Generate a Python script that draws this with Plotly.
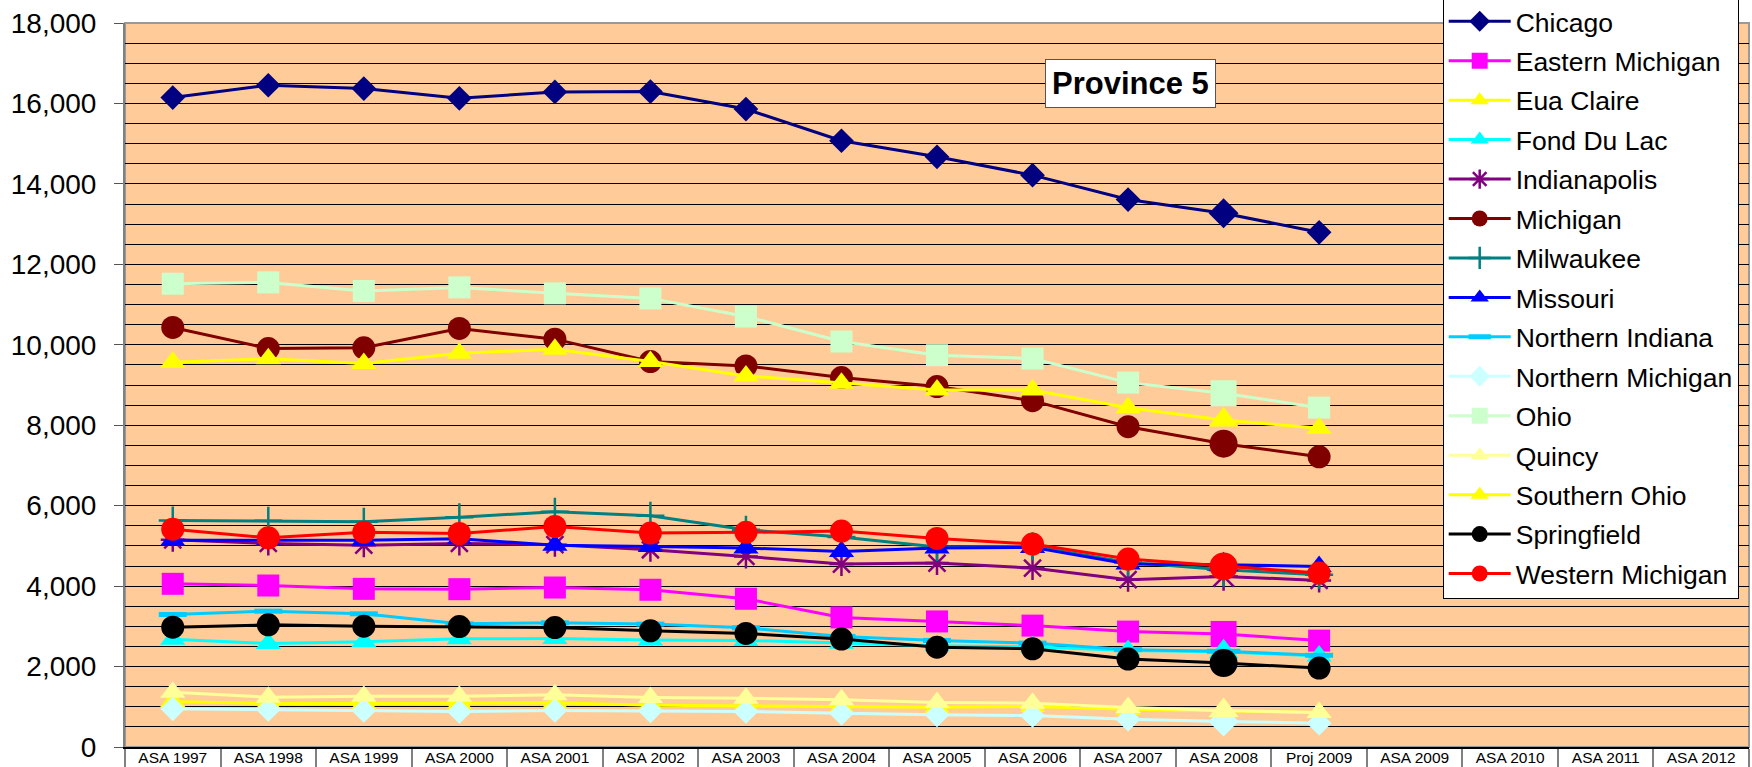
import plotly.graph_objects as go

categories = ["ASA 1997", "ASA 1998", "ASA 1999", "ASA 2000", "ASA 2001", "ASA 2002",
              "ASA 2003", "ASA 2004", "ASA 2005", "ASA 2006", "ASA 2007", "ASA 2008",
              "Proj 2009", "ASA 2009", "ASA 2010", "ASA 2011", "ASA 2012"]
years = categories[:13]

chicago = [16145, 16452, 16369, 16128, 16286, 16294, 15860, 15073, 14674, 14217, 13611, 13271, 12797]
eastern_michigan = [4057, 4015, 3932, 3924, 3965, 3909, 3685, 3221, 3122, 3018, 2869, 2811, 2645]
eua_claire = [1131, 1081, 1081, 1081, 1098, 1040, 1023, 990, 990, 1007, 941, 899, 858]
fond_du_lac = [2681, 2573, 2615, 2689, 2698, 2660, 2650, 2580, 2520, 2490, 2400, 2370, 2260]
indianapolis = [5150, 5060, 5018, 5060, 5030, 4904, 4739, 4548, 4573, 4449, 4159, 4241, 4142]
michigan = [10430, 9907, 9924, 10405, 10140, 9583, 9475, 9184, 8960, 8611, 7963, 7540, 7216]
milwaukee = [5631, 5623, 5598, 5714, 5846, 5750, 5402, 5220, 4971, 4988, 4590, 4407, 4283]
missouri = [5142, 5133, 5142, 5175, 5018, 4987, 4946, 4863, 4946, 4963, 4548, 4532, 4490]
northern_indiana = [3294, 3377, 3311, 3062, 3087, 3055, 2964, 2749, 2650, 2583, 2420, 2380, 2280]
northern_michigan = [949, 932, 907, 882, 907, 899, 882, 841, 800, 783, 692, 634, 592]
ohio = [11518, 11551, 11336, 11427, 11278, 11153, 10704, 10081, 9741, 9657, 9059, 8794, 8437]
quincy = [1363, 1239, 1264, 1264, 1297, 1231, 1214, 1173, 1106, 1090, 982, 907, 858]
southern_ohio = [9566, 9650, 9533, 9791, 9890, 9583, 9226, 9043, 8877, 8877, 8437, 8130, 7922]
springfield = [2979, 3037, 3004, 2995, 2970, 2889, 2823, 2682, 2483, 2442, 2185, 2086, 1961]
western_michigan = [5416, 5200, 5341, 5308, 5482, 5319, 5336, 5369, 5186, 5045, 4672, 4490, 4324]

y_ticks = [0, 2000, 4000, 6000, 8000, 10000, 12000, 14000, 16000, 18000]

series = [
    ("Chicago", chicago, "#000080", "diamond", 19),
    ("Eastern Michigan", eastern_michigan, "#FF00FF", "square", 22),
    ("Eua Claire", eua_claire, "#FFFF00", "triangle-up", 22),
    ("Fond Du Lac", fond_du_lac, "#00FFFF", "triangle-up", 22),
    ("Indianapolis", indianapolis, "#800080", "asterisk-open", 20),
    ("Michigan", michigan, "#800000", "circle", 23),
    ("Milwaukee", milwaukee, "#008080", "cross-thin-open", 20),
    ("Missouri", missouri, "#0000FF", "triangle-up", 22),
    ("Northern Indiana", northern_indiana, "#00CCFF", "line-ew-open", 20),
    ("Northern Michigan", northern_michigan, "#CCFFFF", "diamond", 19),
    ("Ohio", ohio, "#CCFFCC", "square", 22),
    ("Quincy", quincy, "#FFFF99", "triangle-up", 22),
    ("Southern Ohio", southern_ohio, "#FFFF00", "triangle-up", 22),
    ("Springfield", springfield, "#000000", "circle", 23),
    ("Western Michigan", western_michigan, "#FF0000", "circle", 23),
]

fig = go.Figure()
for i, (name, vals, color, sym, size) in enumerate(series):
    sizes = [size] * len(vals)
    sizes[11] = round(size * 1.2)
    open_sym = sym.endswith("open")
    marker = dict(symbol=sym, size=sizes, color=color, opacity=1)
    if open_sym:
        marker["line"] = dict(color=color, width=5 if sym == "line-ew-open" else 2.5)
    else:
        marker["line"] = dict(width=0)
    fig.add_trace(go.Scatter(
        x=years, y=vals, name=name, mode="lines+markers",
        line=dict(color=color, width=3), marker=marker,
        legendgroup="g%d" % i,
    ))

fig.add_shape(type="rect", xref="paper", yref="paper", x0=0, x1=1, y0=0, y1=1,
              line=dict(color="#999999", width=2), layer="below")

fig.add_annotation(text="<b>Province 5</b>", xref="paper", yref="paper",
                   x=(1130 - 125) / 1624, y=(747.5 - 84) / 724, showarrow=False,
                   font=dict(size=31, color="black", family="Liberation Sans, Arial"),
                   bgcolor="white", bordercolor="#555555", borderwidth=1,
                   borderpad=6, xanchor="center", yanchor="middle")

fig.update_layout(
    width=1752, height=767,
    margin=dict(l=125, r=3, t=23, b=20, autoexpand=False),
    paper_bgcolor="white", plot_bgcolor="#FFCC99",
    font=dict(family="Liberation Sans, Arial", color="black"),
    showlegend=True,
    legend=dict(x=(1442.7 - 125) / 1624, y=1 + 26.5 / 724, xanchor="left", yanchor="top",
                bgcolor="white", bordercolor="black", borderwidth=1,
                font=dict(size=26.5, color="black"), traceorder="grouped",
                tracegroupgap=2, itemwidth=62, maxheight=760),
    xaxis=dict(type="category", categoryorder="array", categoryarray=categories,
               tickvals=categories, range=[-0.5, 16.5], showgrid=False,
               showline=True, linecolor="black", linewidth=2,
               ticks="outside", tickson="boundaries", ticklen=20, tickcolor="#808080",
               tickwidth=2, tickfont=dict(size=15.5, color="black"),
               ticklabelstandoff=-5, fixedrange=True),
    yaxis=dict(range=[0, 18000], tickvals=y_ticks, tickformat=",d",
               showgrid=True, gridcolor="#000000", gridwidth=1,
               minor=dict(dtick=500, showgrid=True, gridcolor="#000000", gridwidth=1),
               showline=True, linecolor="#808080", linewidth=2,
               ticks="outside", ticklen=9, tickcolor="#555555", tickwidth=1,
               tickfont=dict(size=28, color="black"), ticklabelstandoff=12,
               zeroline=False),
)

fig.write_html("out.html", config={"displayModeBar": False},
               post_script="document.body.style.margin='0';document.body.style.overflow='hidden';")
